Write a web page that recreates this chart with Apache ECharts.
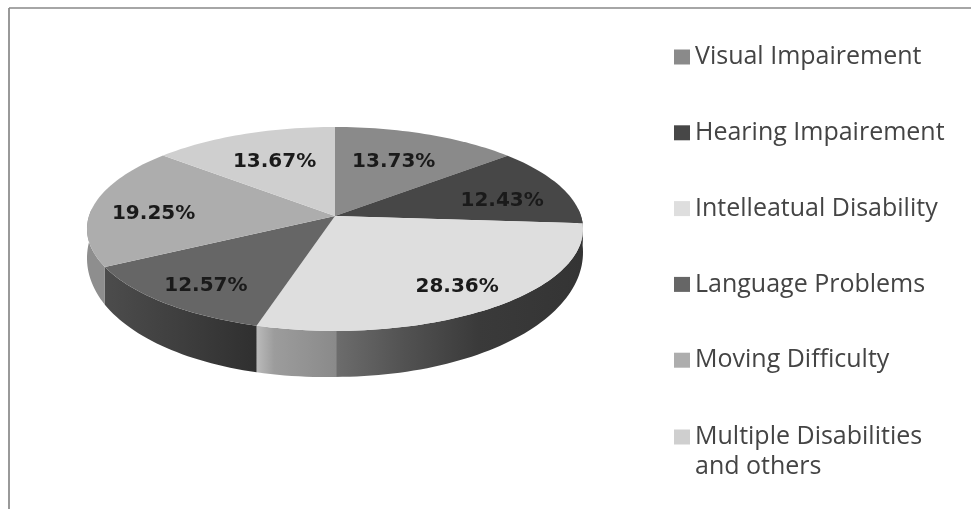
<!DOCTYPE html>
<html>
<head>
<meta charset="utf-8">
<style>html,body{margin:0;padding:0;background:#fff}#main{width:971px;height:509px}</style>
<script src="https://cdn.jsdelivr.net/npm/echarts@6/dist/echarts.min.js"></script>
</head>
<body>
<div id="main"></div>
<script>
// Share of each disability group, percent
const categories = ['Visual Impairement', 'Hearing Impairement', 'Intelleatual Disability',
  'Language Problems', 'Moving Difficulty', 'Multiple Disabilities\nand others'];
const shares = [13.73, 12.43, 28.36, 12.57, 19.25, 13.67];
const topColors = ['#8a8a8a', '#474747', '#dedede', '#666666', '#adadad', '#cfcfcf'];

// Disc projection: a tilted disc seen with a little perspective
const CX = 335, CY = 216, R = 246, TILT = 100.3, PERSP = 0.127;
const labelRadius = [0.6, 0.7, 0.78, 0.8, 0.72, 0.6];
const labelNudge = [[1, -3], [8, 6], [3, 1], [5, 2], [-7, 5], [-3, -3]];
const total = shares.reduce((a, b) => a + b, 0);

function project(deg, r, drop) {
  const a = deg * Math.PI / 180;
  const u = r * Math.sin(a), v = -r * Math.cos(a);
  const f = 1 / (1 - PERSP * v);
  return [CX + R * u * f, CY + TILT * v * f + (drop || 0)];
}
// Wall height grows toward the viewer and a little toward the left
function wallDrop(deg) {
  const a = deg * Math.PI / 180;
  return 20 + 26 * Math.max(-Math.cos(a), 0) + 6 * Math.max(-Math.sin(a), 0);
}

function arcAngles(a0, a1) {
  const out = [];
  const n = Math.max(2, Math.ceil((a1 - a0) / 1.5));
  for (let i = 0; i <= n; i++) out.push(a0 + (a1 - a0) * i / n);
  return out;
}

function stops(x0, x1, list) {
  return new echarts.graphic.LinearGradient(x0, 0, x1, 0,
    list.map(s => ({ offset: s[0], color: s[1] })), true);
}
// Front wall shading for the slices that show one
const wallFill = {
  2: () => stops(258, 582, [[0, '#b8b8b8'], [0.05, '#9c9c9c'], [0.24, '#8a8a8a'], [0.245, '#6c6c6c'],
                            [0.45, '#525252'], [0.68, '#3a3a3a'], [1, '#343434']]),
  3: () => stops(106, 258, [[0, '#4c4c4c'], [0.5, '#3e3e3e'], [1, '#2f2f2f']]),
  4: () => '#8e8e8e'
};

function renderSlice(index, params, api) {
  const before = shares.slice(0, index).reduce((a, b) => a + b, 0);
  const a0 = before / total * 360;
  const a1 = (before + api.value(0)) / total * 360;
  const children = [];

  const wa0 = Math.max(a0, 86), wa1 = Math.min(a1, 274);
  if (wa1 > wa0) {
    const angles = arcAngles(wa0, wa1);
    const upper = angles.map(d => project(d, 1));
    const lower = angles.map(d => project(d, 1, wallDrop(d))).reverse();
    children.push({
      type: 'polygon', shape: { points: upper.concat(lower) },
      style: { fill: wallFill[index] ? wallFill[index]() : api.visual('color') }, z2: 1
    });
  }
  const rim = arcAngles(a0, a1).map(d => project(d, 1));
  children.push({
    type: 'polygon', shape: { points: [project(0, 0)].concat(rim) },
    style: { fill: topColors[index] }, z2: 2
  });
  const p = project((a0 + a1) / 2, labelRadius[index]);
  children.push({
    type: 'text', x: p[0] + labelNudge[index][0], y: p[1] + labelNudge[index][1], z2: 3,
    style: {
      text: api.value(0).toFixed(2) + '%', align: 'center', verticalAlign: 'middle',
      fill: '#1a1a1a', font: 'bold 20px "DejaVu Sans"'
    }
  });
  return { type: 'group', children };
}

const legendText = { color: '#444444', fontFamily: 'Open Sans', fontSize: 25 };
const chart = echarts.init(document.getElementById('main'), null, { renderer: 'canvas' });
chart.setOption({
  animation: false,
  backgroundColor: '#ffffff',
  legend: [
    {
      data: categories.slice(0, 5), orient: 'vertical', left: 674, top: 44, padding: 0,
      itemWidth: 16, itemHeight: 15, itemGap: 49.8, selectedMode: false, icon: 'rect',
      textStyle: Object.assign({ lineHeight: 26 }, legendText)
    },
    {
      // Two-line entry: the swatch sits beside the first line
      data: categories.slice(5), orient: 'vertical', left: 674, top: 422, padding: 0,
      itemWidth: 16, itemHeight: 60, selectedMode: false,
      icon: 'path://M0 7.5H16V22.5H0Z M0 0L0 0Z M16 60L16 60Z',
      textStyle: Object.assign({ lineHeight: 30 }, legendText)
    }
  ],
  graphic: [
    { type: 'line', shape: { x1: 9, y1: 8, x2: 9, y2: 509 }, style: { stroke: '#777777', lineWidth: 1.5 } },
    { type: 'line', shape: { x1: 9, y1: 8, x2: 971, y2: 8 }, style: { stroke: '#888888', lineWidth: 1.5 } }
  ],
  series: categories.map((name, i) => ({
    type: 'custom', name, coordinateSystem: 'none',
    itemStyle: { color: topColors[i] },
    data: [[shares[i]]],
    renderItem: (params, api) => renderSlice(i, params, api)
  }))
});
</script>
</body>
</html>
